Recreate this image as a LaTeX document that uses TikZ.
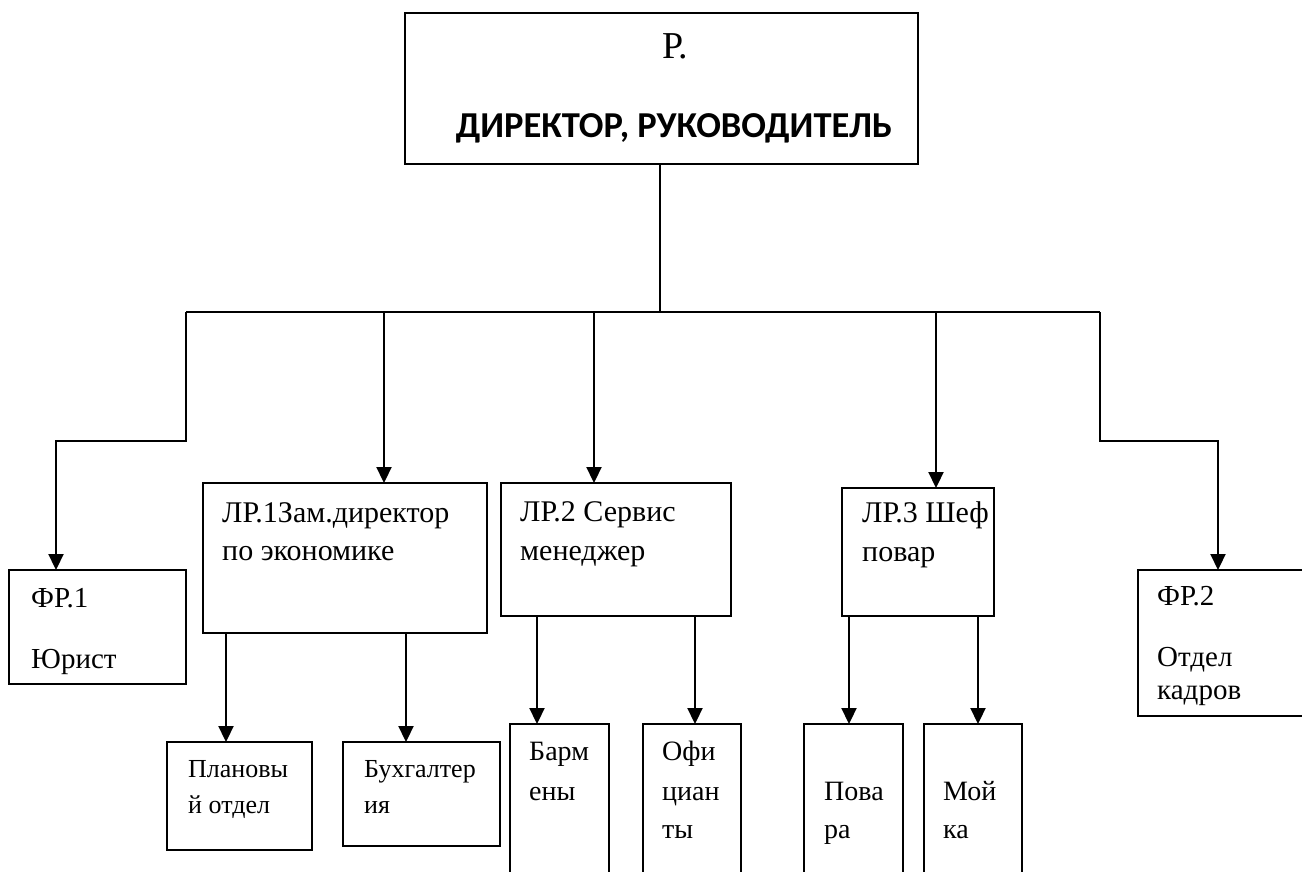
\documentclass[tikz,border=0pt]{standalone}
\usepackage{fontspec}
\setmainfont{Liberation Serif}
\newfontfamily\hdfont{Carlito}
\usetikzlibrary{arrows.meta}
\begin{document}
\begin{tikzpicture}[x=1pt,y=-1pt,
  box/.style={draw, line width=1.8pt, rectangle, inner sep=0pt, outer sep=0pt},
  ln/.style={line width=2.2pt, line join=miter},
  arr/.style={ln, -{Triangle[length=16pt,width=15pt]}},
  lbl/.style={inner sep=0pt, anchor=base west, font=\fontsize{30}{36}\selectfont},
  lblf/.style={inner sep=0pt, anchor=base west, font=\fontsize{29}{35}\selectfont},
  lbls/.style={inner sep=0pt, anchor=base west, font=\fontsize{26}{32}\selectfont},
  lblb/.style={inner sep=0pt, anchor=base west, font=\fontsize{28}{34}\selectfont}]
\useasboundingbox (0,0) rectangle (1302,871);
\fill[white] (0,0) rectangle (1302,871);
\clip (0,0) rectangle (1302,871);
% boxes
\node[box, minimum width=513pt, minimum height=151pt] (top) at (661.5,88.5) {};
\node[box, minimum width=177pt, minimum height=114pt] (fr1) at (97.5,627) {};
\node[box, minimum width=284pt, minimum height=150pt] (lr1) at (345,558) {};
\node[box, minimum width=230pt, minimum height=133pt] (lr2) at (616,549.5) {};
\node[box, minimum width=152pt, minimum height=128pt] (lr3) at (918,552) {};
\node[box, minimum width=182pt, minimum height=146pt] (fr2) at (1229,643) {};
\node[box, minimum width=145pt, minimum height=108pt] (plan) at (239.5,796) {};
\node[box, minimum width=157pt, minimum height=104pt] (buh) at (421.5,794) {};
\node[box, minimum width=99pt, minimum height=176pt] (barm) at (559.5,812) {};
\node[box, minimum width=98pt, minimum height=176pt] (ofic) at (692,812) {};
\node[box, minimum width=99pt, minimum height=176pt] (pov) at (853.5,812) {};
\node[box, minimum width=98pt, minimum height=176pt] (moy) at (973,812) {};
% texts
\node[inner sep=0pt, anchor=base, font=\fontsize{38}{44}\selectfont] (t0a) at (675,58) {Р.};
\node[inner sep=0pt, anchor=base, font=\hdfont\bfseries\fontsize{36.5}{42}\selectfont] (t0b) at (674,137) {ДИРЕКТОР, РУКОВОДИТЕЛЬ};
\node[lblf] (t1a) at (31,607) {ФР.1};
\node[lblf] (t1b) at (31,668) {Юрист};
\node[lbl] (t2a) at (222,522) {ЛР.1Зам.директор};
\node[lbl] (t2b) at (222,560) {по экономике};
\node[lbl] (t3a) at (520,521) {ЛР.2 Сервис};
\node[lbl] (t3b) at (520,560) {менеджер};
\node[lbl] (t4a) at (862,522) {ЛР.3 Шеф};
\node[lbl] (t4b) at (862,561) {повар};
\node[lblf] (t5a) at (1157,605) {ФР.2};
\node[lblf] (t5b) at (1157,666) {Отдел};
\node[lblf] (t5c) at (1157,699) {кадров};
\node[lbls] (t6a) at (188,777) {Плановы};
\node[lbls] (t6b) at (188,813) {й отдел};
\node[lbls] (t7a) at (364,777) {Бухгалтер};
\node[lbls] (t7b) at (364,813) {ия};
\node[lblb] (t8a) at (529,760) {Барм};
\node[lblb] (t8b) at (529,800) {ены};
\node[lblb] (t9a) at (662,760) {Офи};
\node[lblb] (t9b) at (662,800) {циан};
\node[lblb] (t9c) at (662,838) {ты};
\node[lblb] (t10a) at (824,800) {Пова};
\node[lblb] (t10b) at (824,838) {ра};
\node[lblb] (t11a) at (943,800) {Мой};
\node[lblb] (t11b) at (943,838) {ка};
% connector coordinates
\coordinate (stem) at (660,312);
\coordinate (bl) at (186,312);
\coordinate (br) at (1100,312);
\coordinate (bl2) at (186,441);
\coordinate (bl3) at (56,441);
\coordinate (br2) at (1100,441);
\coordinate (br3) at (1218,441);
\coordinate (b1) at (384,312);
\coordinate (b2) at (594,312);
\coordinate (b3) at (936,312);
\coordinate (s1) at (226,0);
\coordinate (s2) at (406,0);
\coordinate (s3) at (537,0);
\coordinate (s4) at (695,0);
\coordinate (s5) at (849,0);
\coordinate (s6) at (978,0);
% connectors
\draw[ln] (top.south -| stem) -- (stem);
\draw[ln] (bl) -- (br);
\draw[arr] (bl) -- (bl2) -- (bl3) -- (bl3 |- fr1.north);
\draw[arr] (br) -- (br2) -- (br3) -- (br3 |- fr2.north);
\draw[arr] (b1) -- (b1 |- lr1.north);
\draw[arr] (b2) -- (b2 |- lr2.north);
\draw[arr] (b3) -- (b3 |- lr3.north);
\draw[arr] (s1 |- lr1.south) -- (s1 |- plan.north);
\draw[arr] (s2 |- lr1.south) -- (s2 |- buh.north);
\draw[arr] (s3 |- lr2.south) -- (s3 |- barm.north);
\draw[arr] (s4 |- lr2.south) -- (s4 |- ofic.north);
\draw[arr] (s5 |- lr3.south) -- (s5 |- pov.north);
\draw[arr] (s6 |- lr3.south) -- (s6 |- moy.north);
\end{tikzpicture}
\end{document}
